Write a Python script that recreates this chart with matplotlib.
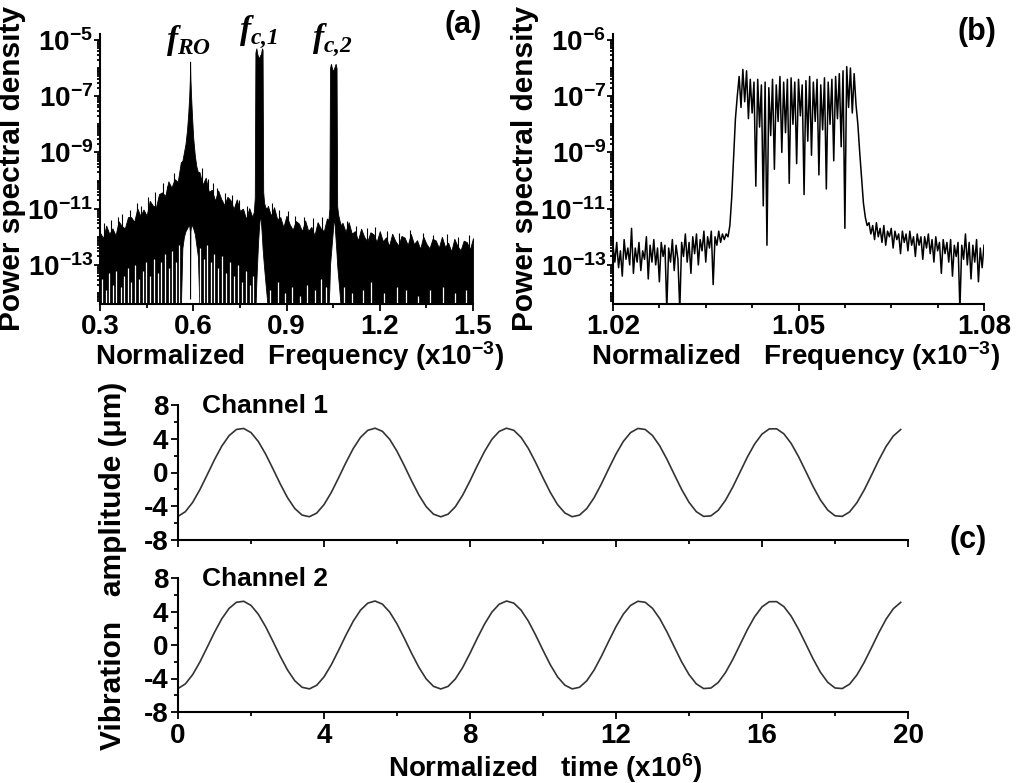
import numpy as np
import matplotlib
matplotlib.use('Agg')
import matplotlib.pyplot as plt
from matplotlib.ticker import (FixedLocator, FixedFormatter, LogLocator,
                               MultipleLocator, NullFormatter, FormatStrFormatter)

plt.rcParams['font.family'] = ['Liberation Sans', 'DejaVu Sans']
plt.rcParams['font.weight'] = 'bold'
plt.rcParams['mathtext.fontset'] = 'custom'
plt.rcParams['mathtext.rm'] = 'Liberation Serif:italic'
plt.rcParams['mathtext.bf'] = 'Liberation Sans:bold'
plt.rcParams['mathtext.it'] = 'Liberation Serif:italic'
plt.rcParams['mathtext.default'] = 'bf'
plt.rcParams['axes.unicode_minus'] = False

# ---- panel (a): spectrum envelope, log10 of PSD ----
freq_a = [0.30, 0.31, 0.32, 0.33, 0.34, 0.35, 0.36, 0.37, 0.38, 0.39,
          0.40, 0.41, 0.42, 0.43, 0.44, 0.45, 0.46, 0.47, 0.48, 0.49,
          0.50, 0.51, 0.52, 0.53, 0.54, 0.55, 0.56,
          0.565, 0.570, 0.575, 0.580, 0.584, 0.587, 0.589, 0.590, 0.591,
          0.593, 0.596, 0.600, 0.605, 0.610, 0.615,
          0.62, 0.63, 0.64, 0.65, 0.66, 0.67, 0.68, 0.69, 0.70, 0.71,
          0.72, 0.73, 0.74, 0.75, 0.76, 0.77, 0.78, 0.79,
          0.795, 0.798, 0.800, 0.803, 0.806, 0.809, 0.812, 0.815, 0.818,
          0.821, 0.823, 0.825, 0.828, 0.832, 0.837,
          0.84, 0.85, 0.86, 0.87, 0.88, 0.89, 0.90, 0.91, 0.92, 0.93,
          0.94, 0.95, 0.96, 0.97, 0.98, 0.99, 1.00, 1.01, 1.02, 1.03,
          1.035, 1.038, 1.040, 1.043, 1.046, 1.049, 1.052, 1.055, 1.058,
          1.061, 1.063, 1.066, 1.070, 1.075,
          1.08, 1.09, 1.10, 1.11, 1.12, 1.13, 1.14, 1.15, 1.16, 1.17,
          1.18, 1.19, 1.20, 1.21, 1.22, 1.23, 1.24, 1.25, 1.26, 1.27,
          1.28, 1.29, 1.30, 1.31, 1.32, 1.33, 1.34, 1.35, 1.36, 1.37,
          1.38, 1.39, 1.40, 1.41, 1.42, 1.43, 1.44, 1.45, 1.46, 1.47,
          1.48, 1.49, 1.50]

top_a = [-11.85, -12.05, -11.60, -11.90, -11.70, -11.95, -11.45, -11.62, -11.70, -11.30,
         -11.30, -11.47, -10.99, -11.26, -11.03, -11.25, -10.72, -10.89, -10.95, -10.48,
         -10.42, -10.55, -10.03, -10.25, -9.95, -10.05, -9.35,
         -9.3, -9.0, -8.7, -8.2, -7.6, -7.0, -6.4, -5.77, -6.4,
         -7.0, -7.7, -8.5, -9.1, -9.5, -9.7,
         -9.70, -10.15, -9.90, -10.40, -10.33, -10.72, -10.35, -10.66, -10.87, -10.58,
         -10.70, -11.01, -10.67, -11.08, -11.00, -11.37, -10.98, -11.30,
         -11.1, -10.6, -5.45, -5.3, -5.5, -5.6, -5.65, -5.55, -5.5,
         -5.3, -5.35, -10.4, -10.8, -10.95, -11.0,
         -10.90, -11.25, -10.95, -11.38, -11.30, -11.66, -11.25, -11.55, -11.75, -11.44,
         -11.53, -11.80, -11.42, -11.79, -11.65, -11.95, -11.48, -11.70, -11.80, -11.35,
         -11.4, -11.0, -6.0, -5.85, -6.0, -6.1, -6.05, -5.95, -5.85,
         -6.0, -10.9, -11.2, -11.4, -11.6,
         -11.50, -11.82, -11.48, -11.89, -11.80, -12.13, -11.71, -12.00, -12.17, -11.84,
         -11.91, -12.18, -11.80, -12.16, -12.02, -12.33, -11.89, -12.15, -12.31, -11.97,
         -12.03, -12.29, -11.90, -12.26, -12.12, -12.43, -11.99, -12.25, -12.41, -12.07,
         -12.13, -12.39, -12.00, -12.36, -12.21, -12.52, -12.07, -12.33, -12.48, -12.14,
         -12.19, -12.45, -12.05]

# lower edge: below the axis except for the gaps under the three peaks
bot_a = [-14.6] * 27 + \
        [-12.4, -12.0, -11.8, -11.7, -11.6, -11.6, -11.8, -14.2, -11.8,
         -11.6, -11.6, -11.7, -11.9, -12.3, -12.7] + \
        [-14.6] * 20 + \
        [-14.6, -13.6, -12.8, -12.1, -11.6, -11.2, -11.5,
         -12.0, -12.4, -12.7, -13.1, -13.6, -14.2] + \
        [-14.6] * 20 + \
        [-14.6, -13.8, -13.0, -12.6, -12.2, -11.8, -11.3, -11.6, -12.1,
         -12.6, -13.0, -13.4, -13.9, -14.6] + \
        [-14.6] * 43

# single upward spikes above the envelope
spike_f_a = [0.312, 0.334, 0.357, 0.372, 0.395, 0.418, 0.433, 0.455, 0.478, 0.503,
             0.515, 0.537, 0.627, 0.646, 0.662, 0.676, 0.702, 0.725, 0.748, 0.772,
             0.852, 0.876, 0.904, 0.927, 0.955, 0.985, 1.015, 1.095, 1.125, 1.158,
             1.186, 1.224, 1.262, 1.297, 1.338, 1.372, 1.415, 1.452, 1.488]
spike_top_a = [-11.5, -11.4, -11.3, -11.2, -11.05, -10.8, -10.9, -10.6, -10.4, -10.1,
               -10.2, -9.75, -9.55, -9.95, -10.1, -10.25, -10.45, -10.5, -10.7, -10.9,
               -10.8, -11.05, -11.1, -11.25, -11.3, -11.35, -11.3, -11.45, -11.6, -11.7,
               -11.65, -11.8, -11.85, -11.75, -11.85, -11.95, -11.9, -12.0, -11.95]

# single downward dips (gaps) reaching up from the bottom
dip_f_a = [0.305, 0.318, 0.329, 0.341, 0.352, 0.366, 0.377, 0.389, 0.401, 0.414,
           0.426, 0.437, 0.449, 0.462, 0.473, 0.486, 0.497, 0.509, 0.521, 0.533,
           0.544, 0.553, 0.622, 0.634, 0.645, 0.657, 0.668, 0.681, 0.693, 0.705,
           0.718, 0.731, 0.744, 0.757, 0.769, 0.782, 0.792, 0.846, 0.872, 0.895,
           0.918, 0.944, 0.967, 0.991, 1.012, 1.026, 1.085, 1.112, 1.146, 1.171,
           1.213, 1.256, 1.284, 1.322, 1.361, 1.405, 1.442, 1.478]
dip_top_a = [-13.5, -13.9, -13.3, -13.7, -13.2, -13.8, -13.4, -13.1, -13.6, -13.0,
             -13.5, -13.2, -12.9, -13.4, -12.8, -13.3, -12.9, -12.6, -13.1, -12.5,
             -12.9, -12.3, -12.4, -12.8, -12.3, -12.9, -12.6, -13.1, -12.7, -13.3,
             -12.9, -13.4, -13.0, -13.6, -13.2, -13.7, -13.4, -13.9, -13.6, -14.0,
             -13.8, -14.1, -13.7, -13.9, -13.5, -13.8, -13.8, -14.0, -13.9, -13.6,
             -14.0, -13.8, -13.9, -14.1, -13.9, -13.8, -14.0, -13.9]

# ---- panel (b): PSD trace around f_c,2, log10 values, sampled every 0.0003 ----
freq_b = np.linspace(1.02, 1.08, 201)
psd_b = [-12.3, -12.9, -12.2, -13.1, -12.5, -13.4, -12.1, -12.8, -12.4, -13.0,
         -11.7, -13.3, -12.4, -12.9, -12.2, -13.2, -12.5, -12.8, -12.0, -13.5,
         -12.3, -12.9, -12.1, -13.0, -12.4, -13.6, -12.2, -12.7, -12.3, -14.6,
         -12.4, -12.9, -12.1, -13.2, -12.3, -12.8, -14.6, -12.2, -12.7, -11.9,
         -12.9, -12.2, -13.3, -12.0, -12.6, -11.9, -13.0, -12.1, -12.5, -11.8,
         -12.9, -12.0, -12.4, -11.8, -13.7, -12.0, -12.3, -11.8, -12.2, -11.9,
         -12.1, -11.9, -12.0,
         -11.6, -10.6, -9.2, -7.8,
         -7.0, -6.3, -7.4, -6.05, -7.2, -6.1, -7.8, -6.4, -7.6, -6.5,
         -10.2, -6.4, -8.1, -6.6, -10.9, -6.5, -12.3, -6.7, -8.4, -6.4,
         -9.6, -6.6, -7.9, -6.3, -9.0, -6.5, -8.3, -6.4, -10.1, -6.35,
         -8.0, -6.5, -9.4, -6.4, -7.7, -6.6, -10.5, -6.45, -8.6, -6.3,
         -9.1, -6.5, -7.9, -6.4, -9.8, -6.6, -8.2, -6.35, -10.3, -6.5,
         -8.0, -6.4, -9.3, -6.3, -7.8, -6.2, -8.8, -6.1, -11.7, -5.95,
         -7.4, -6.0, -7.6, -6.2,
         -7.3, -8.0, -9.0, -9.9, -10.8, -11.3, -11.6,
         -11.5, -11.9, -11.6, -12.1, -11.5, -12.0, -11.7, -12.2, -11.6, -12.3,
         -11.8, -12.0, -11.7, -12.4, -11.8, -12.1, -11.9, -12.6, -11.8, -12.2,
         -11.9, -12.5, -11.8, -12.3, -12.0, -12.7, -11.9, -12.3, -12.0, -12.8,
         -12.0, -12.4, -11.9, -12.6, -12.1, -12.9, -12.0, -12.5, -12.2, -13.3,
         -12.1, -12.6, -12.2, -12.9, -12.1, -13.4, -12.3, -12.7, -12.2, -14.6,
         -12.3, -12.8, -11.9, -13.0, -12.2, -13.5, -12.3, -12.9, -12.1, -13.6,
         -12.4, -13.1, -12.3]

# ---- panel (c): vibration amplitude (um), sampled every 0.2 x10^6 ----
time_c = np.linspace(0.0, 19.8, 100)
channel_1 = [-5.20, -4.65, -3.55, -2.03, -0.27, 1.52, 3.13, 4.37, 5.10, 5.22,
             4.73, 3.68, 2.19, 0.45, -1.34, -2.98, -4.27, -5.05, -5.24, -4.81,
             -3.81, -2.36, -0.63, 1.17, 2.83, 4.16, 5.00, 5.25, 4.88, 3.93,
             2.52, 0.81, -0.99, -2.67, -4.05, -4.94, -5.25, -4.94, -4.05, -2.68,
             -0.99, 0.81, 2.51, 3.93, 4.87, 5.25, 5.00, 4.16, 2.84, 1.17,
             -0.63, -2.36, -3.81, -4.80, -5.24, -5.05, -4.27, -2.99, -1.35, 0.45,
             2.19, 3.68, 4.73, 5.22, 5.10, 4.38, 3.14, 1.53, -0.26, -2.02,
             -3.53, -4.64, -5.20, -5.14, -4.48, -3.29, -1.72, 0.06, 1.84, 3.39,
             4.55, 5.17, 5.18, 4.58, 3.44, 1.89, 0.13, -1.66, -3.25, -4.45,
             -5.13, -5.20, -4.67, -3.58, -2.07, -0.32, 1.47, 3.09, 4.34, 5.09]
channel_2 = list(channel_1)

log_ticks = [1e-13, 1e-11, 1e-9, 1e-7, 1e-5]
labels_a = [r'$10^{-13}$', r'$10^{-11}$', r'$10^{-9}$', r'$10^{-7}$', r'$10^{-5}$']
labels_b = [r'$10^{-13}$', r'$10^{-11}$', r'$10^{-9}$', r'$10^{-7}$', r'$10^{-6}$']

W, H = 1024, 783
fig = plt.figure(figsize=(W / 100, H / 100), dpi=100)

TICK_FS = 20
XLABEL_FS = 20
YLABEL_FS = 21.5
FLOOR = 10 ** -15


def style_axes(ax):
    for s in ('top', 'right'):
        ax.spines[s].set_visible(False)
    for s in ('left', 'bottom'):
        ax.spines[s].set_linewidth(1.5)
    ax.tick_params(which='both', direction='out', width=1.3, labelsize=TICK_FS)
    ax.tick_params(which='major', length=5)
    ax.tick_params(which='minor', length=3)


def log_axis(ax, labels):
    ax.set_yscale('log')
    ax.set_ylim(10 ** -14.39, 10 ** -4.79)
    ax.yaxis.set_major_locator(FixedLocator(log_ticks))
    ax.yaxis.set_major_formatter(FixedFormatter(labels))
    ax.yaxis.set_minor_locator(LogLocator(base=10, subs=np.arange(1, 10), numticks=60))
    ax.yaxis.set_minor_formatter(NullFormatter())
    ax.tick_params(axis='y', which='major', length=4, pad=1)
    ax.tick_params(axis='y', which='minor', length=2.5)
    ax.tick_params(axis='x', which='major', length=5, pad=2)


# (a)
ax_a = fig.add_axes([100 / W, 1 - 304 / H, 373 / W, 270 / H])
ax_a.fill_between(freq_a, 10.0 ** np.array(bot_a), 10.0 ** np.array(top_a),
                  color='black', lw=0.6)
ax_a.vlines(spike_f_a, FLOOR, 10.0 ** np.array(spike_top_a), color='black', lw=0.8)
ax_a.vlines(dip_f_a, FLOOR, 10.0 ** np.array(dip_top_a), color='white', lw=0.9)
ax_a.set_xlim(0.3, 1.5)
ax_a.xaxis.set_major_locator(MultipleLocator(0.3))
ax_a.xaxis.set_minor_locator(MultipleLocator(0.15))
ax_a.xaxis.set_major_formatter(FormatStrFormatter('%.1f'))
style_axes(ax_a)
log_axis(ax_a, labels_a)

xt = ax_a.get_xaxis_transform()
ax_a.text(0.585, 0.975, r'$\mathit{f}_{\mathit{RO}}$', transform=xt, ha='center',
          va='center', fontsize=24)
ax_a.text(0.81, 1.005, r'$\mathit{f}_{\mathit{c{,}1}}$', transform=xt, ha='center',
          va='center', fontsize=24)
ax_a.text(1.048, 0.975, r'$\mathit{f}_{\mathit{c{,}2}}$', transform=xt, ha='center',
          va='center', fontsize=24)

# (b)
ax_b = fig.add_axes([613 / W, 1 - 304 / H, 371 / W, 270 / H])
ax_b.plot(freq_b, 10.0 ** np.array(psd_b), color='black', lw=1.1)
ax_b.set_xlim(1.02, 1.08)
ax_b.xaxis.set_major_locator(MultipleLocator(0.03))
ax_b.xaxis.set_minor_locator(MultipleLocator(0.0075))
ax_b.xaxis.set_major_formatter(FormatStrFormatter('%.2f'))
style_axes(ax_b)
log_axis(ax_b, labels_b)

# (c)
ax_c1 = fig.add_axes([178 / W, 1 - 540 / H, 730 / W, 135 / H])
ax_c2 = fig.add_axes([178 / W, 1 - 712 / H, 730 / W, 134 / H])
for ax, vals, name in ((ax_c1, channel_1, 'Channel 1'), (ax_c2, channel_2, 'Channel 2')):
    ax.plot(time_c, vals, color='#333333', lw=1.2)
    ax.set_xlim(0, 20)
    ax.set_ylim(-8, 8)
    ax.xaxis.set_major_locator(MultipleLocator(4))
    ax.xaxis.set_minor_locator(MultipleLocator(2))
    ax.yaxis.set_major_locator(MultipleLocator(4))
    ax.yaxis.set_minor_locator(MultipleLocator(2))
    style_axes(ax)
    ax.tick_params(which='major', length=5)
    ax.tick_params(axis='y', pad=2)
    ax.tick_params(axis='x', pad=3)
    ax.text(0.033, 0.99, name, transform=ax.transAxes, ha='left', va='center',
            fontsize=19, fontweight='bold')
ax_c1.tick_params(axis='x', labelbottom=False)

# labels
fig.text(12 / W, 1 - 168 / H, 'Power spectral density', rotation=90, ha='center',
         va='center', fontsize=YLABEL_FS, fontweight='bold')
fig.text(525 / W, 1 - 168 / H, 'Power spectral density', rotation=90, ha='center',
         va='center', fontsize=YLABEL_FS, fontweight='bold')
fig.text(300 / W, 1 - 356 / H, r'Normalized   Frequency (x10$^{-3}$)', ha='center',
         va='center', fontsize=XLABEL_FS, fontweight='bold')
fig.text(796 / W, 1 - 356 / H, r'Normalized   Frequency (x10$^{-3}$)', ha='center',
         va='center', fontsize=XLABEL_FS, fontweight='bold')
fig.text(113 / W, 1 - 566 / H, 'Vibration   amplitude (\u03bcm)', rotation=90,
         ha='center', va='center', fontsize=YLABEL_FS, fontweight='bold')
fig.text(545 / W, 1 - 768 / H, r'Normalized   time (x10$^{6}$)', ha='center',
         va='center', fontsize=XLABEL_FS, fontweight='bold')

fig.text(463 / W, 1 - 25 / H, '(a)', ha='center', va='center', fontsize=22,
         fontweight='bold')
fig.text(977 / W, 1 - 32 / H, '(b)', ha='center', va='center', fontsize=22,
         fontweight='bold')
fig.text(968 / W, 1 - 540 / H, '(c)', ha='center', va='center', fontsize=22,
         fontweight='bold')

fig.savefig('out.png', dpi=100)
